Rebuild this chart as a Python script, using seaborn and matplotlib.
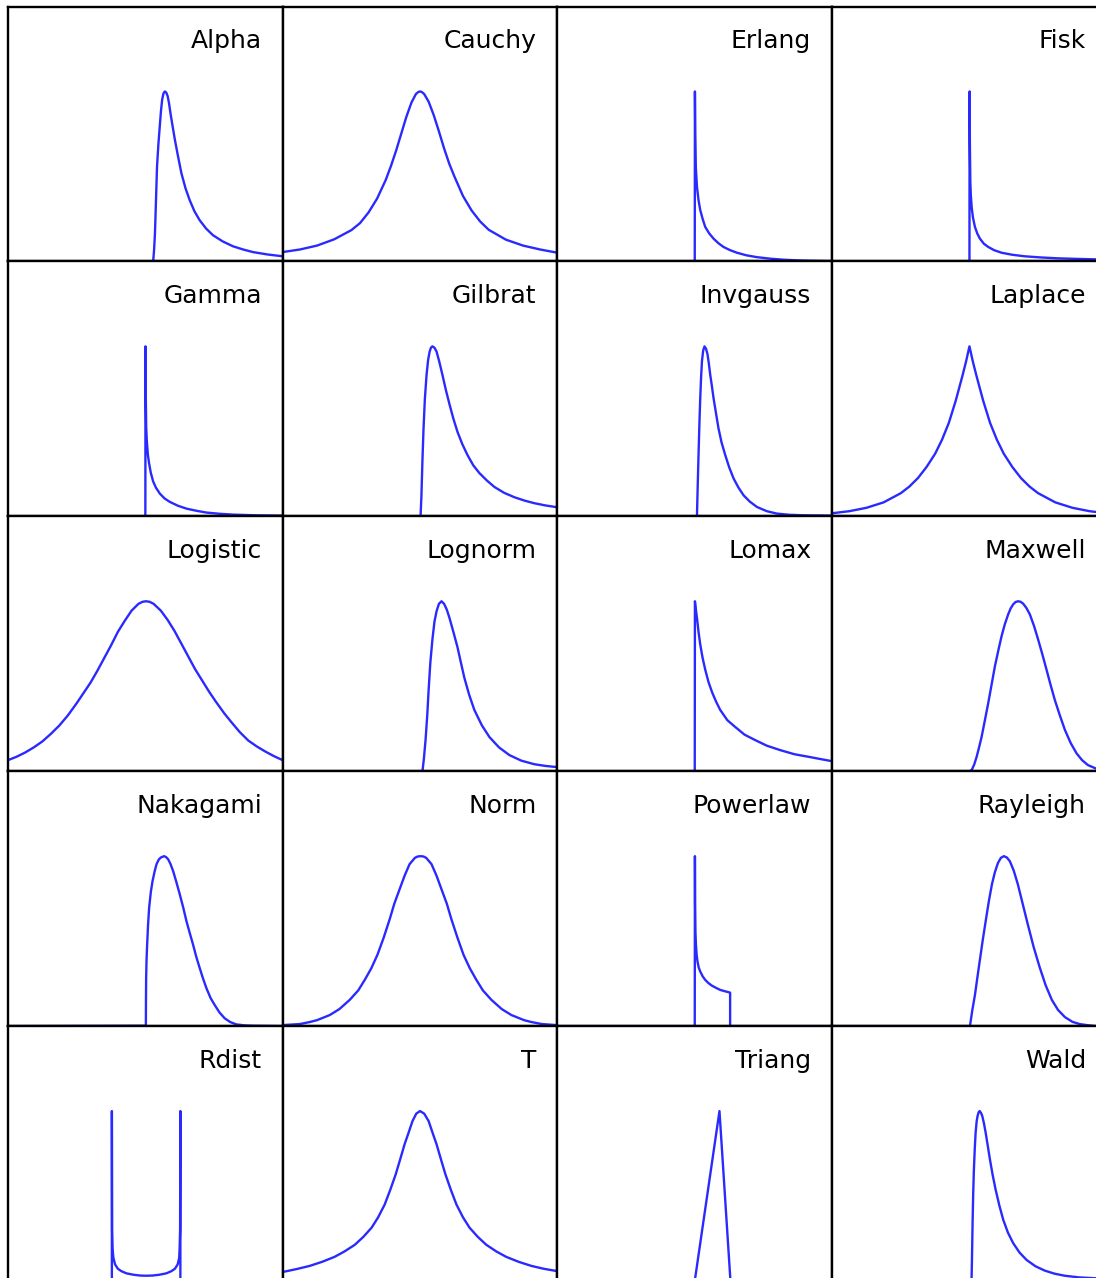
import matplotlib
matplotlib.use("Agg")
import matplotlib.pyplot as plt
import seaborn as sns
import pandas as pd

# Normalised density curves (peak = 1) on a common x range of [-4, 4]
alpha_x = [-4.0, 0.2, 0.23, 0.255, 0.28, 0.31, 0.34, 0.38, 0.42, 0.455, 0.49, 0.53, 0.57, 0.61, 0.65, 0.69, 0.73, 0.79, 0.86, 0.95, 1.05, 1.17, 1.29, 1.43, 1.58, 1.77, 1.97, 2.25, 2.55, 2.85, 3.13, 3.55, 4.0]
alpha_y = [0, 0, 0.006, 0.07, 0.166, 0.36, 0.558, 0.69, 0.795, 0.885, 0.953, 0.99, 1.0, 0.993, 0.972, 0.93, 0.874, 0.80, 0.716, 0.62, 0.519, 0.43, 0.361, 0.295, 0.243, 0.193, 0.154, 0.118, 0.089, 0.070, 0.055, 0.041, 0.030]

cauchy_x = [-4.0, -3.5, -3.0, -2.5, -2.0, -1.75, -1.5, -1.25, -1.0, -0.85, -0.7, -0.55, -0.4, -0.25, -0.12, -0.05, 0.0, 0.05, 0.12, 0.25, 0.4, 0.55, 0.7, 0.85, 1.0, 1.25, 1.5, 1.75, 2.0, 2.5, 3.0, 3.5, 4.0]
cauchy_y = [0.055, 0.07, 0.093, 0.13, 0.184, 0.225, 0.288, 0.37, 0.479, 0.56, 0.65, 0.75, 0.85, 0.935, 0.985, 0.997, 1.0, 0.997, 0.985, 0.94, 0.86, 0.765, 0.665, 0.575, 0.50, 0.385, 0.30, 0.235, 0.186, 0.128, 0.093, 0.07, 0.051]

erlang_x = [-4.0, 0.0, 0.005, 0.015, 0.03, 0.064, 0.11, 0.16, 0.23, 0.305, 0.42, 0.547, 0.69, 0.837, 1.03, 1.23, 1.5, 1.81, 2.2, 2.58, 3.0, 3.36, 4.0]
erlang_y = [0, 0, 1.0, 0.75, 0.56, 0.44, 0.36, 0.302, 0.25, 0.203, 0.165, 0.134, 0.107, 0.085, 0.066, 0.051, 0.036, 0.025, 0.016, 0.010, 0.006, 0.004, 0.002]

fisk_x = [-4.0, 0.0, 0.005, 0.012, 0.025, 0.04, 0.064, 0.1, 0.16, 0.23, 0.305, 0.42, 0.547, 0.72, 0.936, 1.25, 1.61, 2.1, 2.58, 3.1, 3.68, 4.0]
fisk_y = [0, 0, 1.0, 0.70, 0.47, 0.39, 0.321, 0.26, 0.203, 0.163, 0.134, 0.104, 0.085, 0.066, 0.051, 0.039, 0.030, 0.023, 0.018, 0.015, 0.012, 0.011]

gamma_x = [-4.0, 0.0, 0.005, 0.012, 0.025, 0.044, 0.075, 0.11, 0.16, 0.227, 0.31, 0.42, 0.56, 0.71, 0.95, 1.2, 1.5, 1.78, 2.15, 2.55, 3.2, 4.0]
gamma_y = [0, 0, 1.0, 0.72, 0.52, 0.44, 0.36, 0.31, 0.255, 0.205, 0.168, 0.134, 0.105, 0.085, 0.062, 0.045, 0.032, 0.022, 0.015, 0.010, 0.006, 0.004]

gilbrat_x = [-4.0, 0.015, 0.04, 0.07, 0.10, 0.14, 0.19, 0.235, 0.28, 0.32, 0.36, 0.42, 0.48, 0.56, 0.65, 0.75, 0.86, 0.97, 1.09, 1.23, 1.38, 1.55, 1.73, 1.95, 2.17, 2.45, 2.75, 3.05, 3.33, 3.65, 4.0]
gilbrat_y = [0, 0, 0.12, 0.33, 0.51, 0.69, 0.834, 0.92, 0.970, 0.993, 1.0, 0.992, 0.97, 0.91, 0.834, 0.745, 0.657, 0.575, 0.497, 0.425, 0.361, 0.30, 0.254, 0.21, 0.172, 0.138, 0.112, 0.092, 0.077, 0.064, 0.053]

invgauss_x = [-4.0, 0.064, 0.085, 0.11, 0.135, 0.16, 0.185, 0.21, 0.245, 0.285, 0.33, 0.372, 0.41, 0.45, 0.50, 0.547, 0.62, 0.69, 0.78, 0.887, 1.0, 1.13, 1.27, 1.42, 1.6, 1.81, 2.1, 2.39, 2.75, 3.16, 4.0]
invgauss_y = [0, 0, 0.17, 0.361, 0.54, 0.696, 0.82, 0.913, 0.975, 1.0, 0.985, 0.953, 0.90, 0.834, 0.765, 0.696, 0.605, 0.519, 0.435, 0.361, 0.29, 0.223, 0.17, 0.124, 0.087, 0.055, 0.030, 0.016, 0.009, 0.006, 0.004]

laplace_x = [-4.0, -3.5, -3.0, -2.5, -2.0, -1.75, -1.5, -1.25, -1.0, -0.8, -0.6, -0.4, -0.2, -0.1, 0.0, 0.1, 0.2, 0.4, 0.6, 0.8, 1.0, 1.25, 1.5, 1.75, 2.0, 2.5, 3.0, 3.5, 4.0]
laplace_y = [0.018, 0.03, 0.05, 0.082, 0.136, 0.175, 0.225, 0.29, 0.368, 0.45, 0.55, 0.68, 0.83, 0.91, 1.0, 0.91, 0.83, 0.68, 0.55, 0.45, 0.368, 0.29, 0.225, 0.175, 0.136, 0.082, 0.05, 0.03, 0.018]

logistic_x = [-4.0, -3.75, -3.5, -3.25, -3.0, -2.75, -2.5, -2.25, -2.0, -1.8, -1.6, -1.4, -1.2, -1.0, -0.8, -0.6, -0.4, -0.2, -0.08, 0.02, 0.12, 0.24, 0.45, 0.65, 0.85, 1.05, 1.25, 1.45, 1.65, 1.85, 2.05, 2.3, 2.5, 2.75, 3.0, 3.25, 3.5, 3.75, 4.0]
logistic_y = [0.065, 0.085, 0.11, 0.14, 0.175, 0.22, 0.27, 0.33, 0.40, 0.46, 0.52, 0.59, 0.665, 0.74, 0.82, 0.885, 0.945, 0.985, 0.997, 1.0, 0.997, 0.985, 0.945, 0.89, 0.825, 0.75, 0.675, 0.60, 0.535, 0.47, 0.41, 0.34, 0.29, 0.23, 0.18, 0.145, 0.115, 0.088, 0.065]

lognorm_x = [-4.0, 0.07, 0.11, 0.16, 0.21, 0.25, 0.30, 0.36, 0.42, 0.48, 0.55, 0.625, 0.70, 0.78, 0.86, 0.97, 1.09, 1.2, 1.29, 1.43, 1.58, 1.8, 2.02, 2.3, 2.6, 2.95, 3.33, 3.65, 4.0]
lognorm_y = [0, 0, 0.07, 0.183, 0.33, 0.479, 0.64, 0.775, 0.88, 0.941, 0.985, 1.0, 0.985, 0.95, 0.90, 0.82, 0.73, 0.63, 0.55, 0.45, 0.361, 0.27, 0.201, 0.14, 0.095, 0.062, 0.041, 0.031, 0.024]

lomax_x = [-4.0, 0.0, 0.005, 0.04, 0.07, 0.11, 0.16, 0.23, 0.305, 0.4, 0.51, 0.62, 0.74, 0.95, 1.18, 1.45, 1.76, 2.1, 2.49, 2.9, 3.36, 3.7, 4.0]
lomax_y = [0, 0, 1.0, 0.94, 0.893, 0.82, 0.746, 0.665, 0.598, 0.525, 0.462, 0.41, 0.361, 0.30, 0.260, 0.215, 0.183, 0.15, 0.124, 0.10, 0.083, 0.07, 0.059]

maxwell_x = [-4.0, 0.0, 0.064, 0.14, 0.21, 0.28, 0.355, 0.45, 0.547, 0.645, 0.741, 0.84, 0.936, 1.03, 1.128, 1.2, 1.273, 1.345, 1.419, 1.49, 1.564, 1.66, 1.759, 1.88, 2.0, 2.12, 2.244, 2.36, 2.485, 2.63, 2.78, 2.95, 3.12, 3.28, 3.45, 3.68, 4.0]
maxwell_y = [0, 0, 0.006, 0.04, 0.085, 0.14, 0.203, 0.30, 0.401, 0.51, 0.617, 0.71, 0.795, 0.865, 0.923, 0.958, 0.982, 0.996, 1.0, 0.997, 0.986, 0.96, 0.923, 0.855, 0.775, 0.69, 0.598, 0.51, 0.420, 0.33, 0.243, 0.165, 0.105, 0.065, 0.036, 0.016, 0.006]

nakagami_x = [-4.0, 0.015, 0.018, 0.023, 0.035, 0.052, 0.08, 0.11, 0.16, 0.21, 0.27, 0.326, 0.39, 0.45, 0.547, 0.60, 0.663, 0.73, 0.808, 0.9, 1.003, 1.1, 1.198, 1.29, 1.39, 1.48, 1.584, 1.68, 1.779, 1.9, 2.02, 2.16, 2.31, 2.47, 2.65, 2.9, 3.13, 4.0]
nakagami_y = [0, 0.002, 0.15, 0.282, 0.39, 0.479, 0.60, 0.696, 0.79, 0.854, 0.91, 0.953, 0.98, 0.992, 1.0, 0.995, 0.982, 0.955, 0.913, 0.85, 0.775, 0.70, 0.617, 0.55, 0.479, 0.41, 0.341, 0.28, 0.223, 0.165, 0.124, 0.08, 0.046, 0.024, 0.010, 0.004, 0.002, 0.0]

norm_x = [-4.0, -3.5, -3.21, -3.0, -2.63, -2.35, -2.05, -1.8, -1.61, -1.42, -1.24, -1.06, -0.887, -0.75, -0.596, -0.45, -0.305, -0.15, -0.07, 0.015, 0.1, 0.18, 0.334, 0.48, 0.625, 0.78, 0.916, 1.09, 1.265, 1.45, 1.64, 1.83, 2.08, 2.38, 2.66, 3.03, 3.24, 3.55, 3.97]
norm_y = [0.006, 0.012, 0.024, 0.035, 0.065, 0.10, 0.154, 0.21, 0.272, 0.34, 0.420, 0.52, 0.627, 0.72, 0.805, 0.885, 0.953, 0.99, 0.998, 1.0, 0.998, 0.99, 0.953, 0.885, 0.805, 0.72, 0.627, 0.52, 0.420, 0.34, 0.272, 0.21, 0.154, 0.10, 0.065, 0.035, 0.024, 0.012, 0.006]

powerlaw_x = [-4.0, 0.0, 0.005, 0.01, 0.02, 0.035, 0.055, 0.08, 0.115, 0.16, 0.23, 0.305, 0.4, 0.5, 0.62, 0.741, 0.88, 1.03, 1.03, 4.0]
powerlaw_y = [0, 0, 1.0, 0.72, 0.55, 0.479, 0.42, 0.38, 0.345, 0.321, 0.293, 0.272, 0.253, 0.238, 0.225, 0.213, 0.205, 0.197, 0, 0]

rayleigh_x = [-4.0, 0.015, 0.08, 0.16, 0.23, 0.305, 0.39, 0.48, 0.565, 0.654, 0.74, 0.828, 0.915, 1.003, 1.09, 1.177, 1.29, 1.41, 1.55, 1.70, 1.87, 2.05, 2.22, 2.40, 2.58, 2.78, 3.0, 3.21, 3.45, 3.68, 4.0]
rayleigh_y = [0, 0, 0.09, 0.183, 0.285, 0.391, 0.51, 0.627, 0.735, 0.834, 0.905, 0.959, 0.99, 1.0, 0.992, 0.970, 0.915, 0.834, 0.72, 0.598, 0.465, 0.343, 0.24, 0.154, 0.095, 0.053, 0.025, 0.012, 0.005, 0.0, 0.0]

rdist_x = [-4.0, -0.975, -0.975, -0.968, -0.955, -0.93, -0.88, -0.80, -0.70, -0.55, -0.35, -0.15, 0.03, 0.21, 0.41, 0.61, 0.76, 0.86, 0.94, 0.985, 0.998, 1.012, 1.02, 1.02, 4.0]
rdist_y = [0, 0, 1.0, 0.30, 0.19, 0.135, 0.097, 0.072, 0.058, 0.045, 0.037, 0.032, 0.031, 0.032, 0.037, 0.045, 0.058, 0.072, 0.097, 0.135, 0.19, 0.30, 1.0, 0, 0]

t_x = [-4.0, -3.6, -3.21, -2.85, -2.49, -2.2, -1.90, -1.65, -1.41, -1.22, -1.03, -0.87, -0.71, -0.58, -0.45, -0.33, -0.22, -0.11, 0.0, 0.12, 0.25, 0.36, 0.48, 0.61, 0.74, 0.9, 1.06, 1.25, 1.44, 1.68, 1.93, 2.22, 2.51, 2.87, 3.24, 3.6, 3.97]
t_y = [0.053, 0.07, 0.089, 0.113, 0.142, 0.174, 0.213, 0.26, 0.314, 0.375, 0.450, 0.535, 0.627, 0.715, 0.805, 0.875, 0.941, 0.985, 1.0, 0.985, 0.941, 0.875, 0.805, 0.715, 0.627, 0.535, 0.450, 0.375, 0.314, 0.26, 0.213, 0.174, 0.142, 0.113, 0.089, 0.072, 0.059]

triang_x = [-4.0, 0.0, 0.72, 1.04, 4.0]
triang_y = [0, 0, 1.0, 0, 0]

wald_x = [-4.0, 0.06, 0.07, 0.093, 0.11, 0.13, 0.155, 0.18, 0.21, 0.238, 0.267, 0.297, 0.335, 0.372, 0.42, 0.471, 0.53, 0.596, 0.675, 0.762, 0.87, 0.983, 1.12, 1.273, 1.46, 1.663, 1.92, 2.195, 2.48, 2.776, 3.2, 3.677, 4.0]
wald_y = [0, 0, 0.09, 0.361, 0.52, 0.657, 0.78, 0.874, 0.94, 0.972, 0.993, 1.0, 0.99, 0.972, 0.93, 0.874, 0.80, 0.716, 0.625, 0.538, 0.445, 0.361, 0.285, 0.223, 0.167, 0.124, 0.087, 0.061, 0.043, 0.031, 0.021, 0.016, 0.014]

names = ["Alpha", "Cauchy", "Erlang", "Fisk",
         "Gamma", "Gilbrat", "Invgauss", "Laplace",
         "Logistic", "Lognorm", "Lomax", "Maxwell",
         "Nakagami", "Norm", "Powerlaw", "Rayleigh",
         "Rdist", "T", "Triang", "Wald"]

curves = [(alpha_x, alpha_y), (cauchy_x, cauchy_y), (erlang_x, erlang_y), (fisk_x, fisk_y),
          (gamma_x, gamma_y), (gilbrat_x, gilbrat_y), (invgauss_x, invgauss_y), (laplace_x, laplace_y),
          (logistic_x, logistic_y), (lognorm_x, lognorm_y), (lomax_x, lomax_y), (maxwell_x, maxwell_y),
          (nakagami_x, nakagami_y), (norm_x, norm_y), (powerlaw_x, powerlaw_y), (rayleigh_x, rayleigh_y),
          (rdist_x, rdist_y), (t_x, t_y), (triang_x, triang_y), (wald_x, wald_y)]

sns.set_style("white")
plt.rcParams["font.family"] = ["DejaVu Sans"]

W, H = 1096, 1278
fig = plt.figure(figsize=(W / 100, H / 100), dpi=100)

cell_w, cell_h = 274.7, 254.9
x0, y0 = 8.0, 6.5
line_color = "#2a2aff"

for i, (name, (xs, ys)) in enumerate(zip(names, curves)):
    r, c = divmod(i, 4)
    left = (x0 + c * cell_w) / W
    bottom = (H - (y0 + (r + 1) * cell_h)) / H
    ax = fig.add_axes([left, bottom, cell_w / W, cell_h / H])
    df = pd.DataFrame({"x": xs, "y": ys})
    sns.lineplot(data=df, x="x", y="y", ax=ax, color=line_color, linewidth=1.7,
                 sort=False, estimator=None)
    ax.set_xlim(-4, 4)
    ax.set_ylim(0, 1.5)
    ax.set_xticks([])
    ax.set_yticks([])
    ax.set_xlabel("")
    ax.set_ylabel("")
    for sp in ax.spines.values():
        sp.set_visible(True)
        sp.set_color("black")
        sp.set_linewidth(1.7)
    ax.text(0.924, 0.836, name, transform=ax.transAxes, ha="right", va="baseline",
            fontsize=18, color="black")

fig.savefig("out.png", dpi=100)
